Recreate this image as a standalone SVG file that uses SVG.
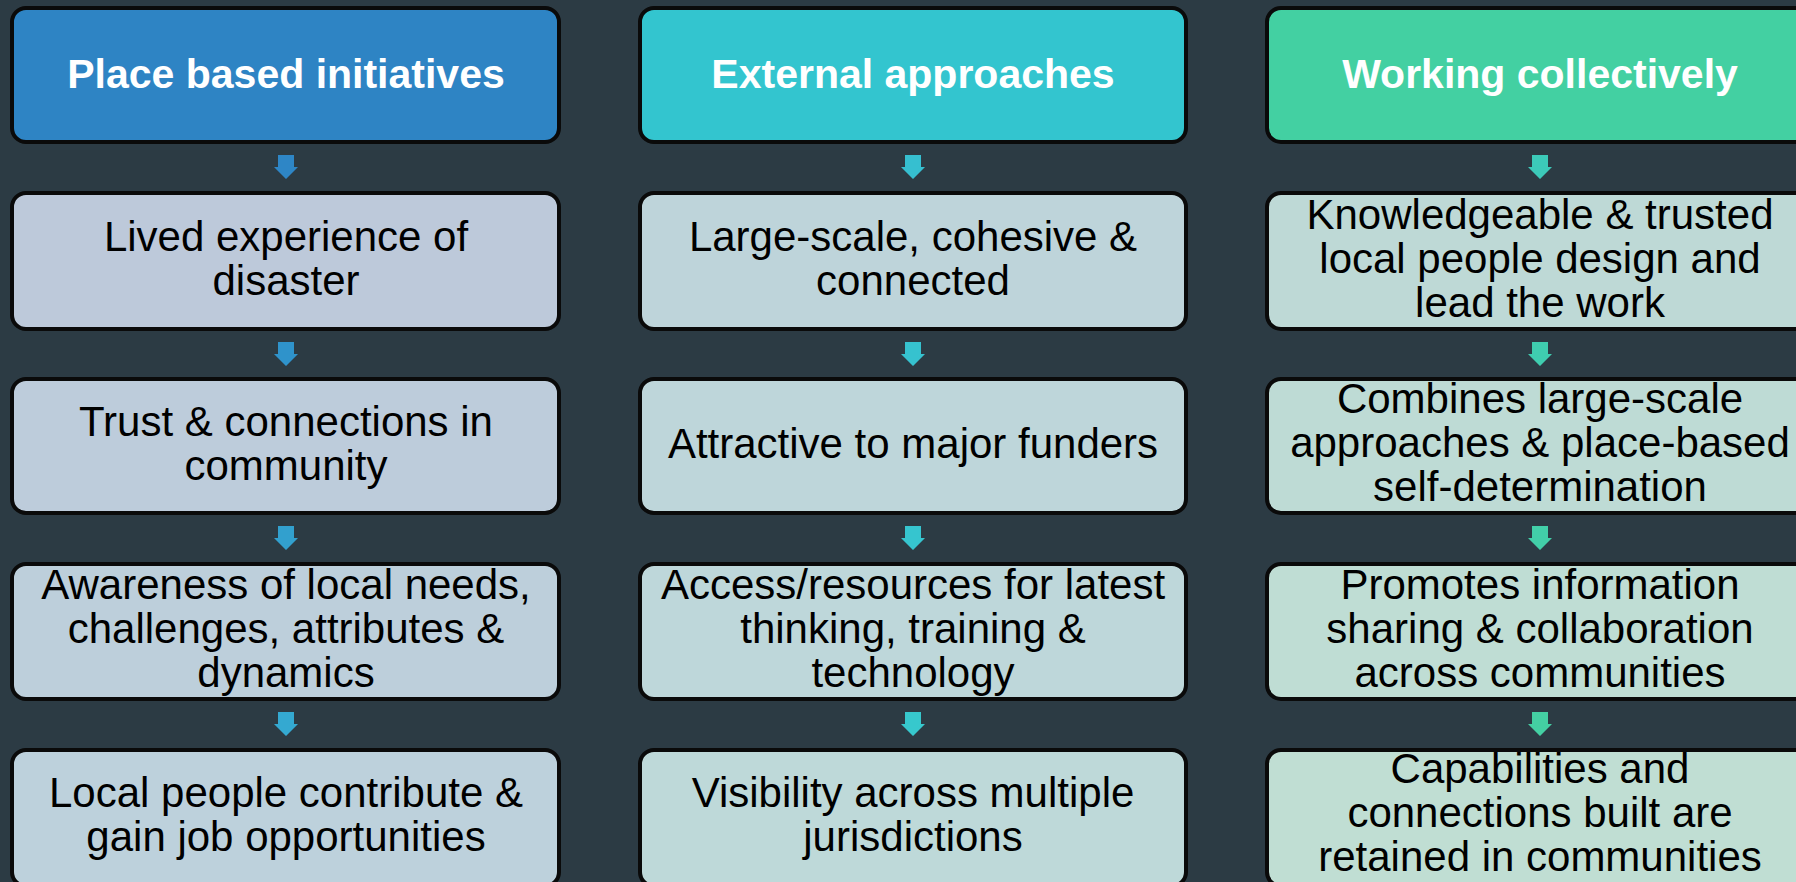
<svg xmlns="http://www.w3.org/2000/svg" xmlns:xlink="http://www.w3.org/1999/xlink" width="1796" height="882" viewBox="0 0 1796 882">
  <style>
    .box { stroke: #0a0a0a; stroke-width: 4; }
    .hdr { font-family: "Liberation Sans", Arial, sans-serif; font-weight: bold; font-size: 41px; fill: #ffffff; text-anchor: middle; }
    .txt { font-family: "Liberation Sans", Arial, sans-serif; font-size: 42px; fill: #000000; text-anchor: middle; }
  </style>
  <defs>
    <path id="arr" d="M -8 0 H 8 V 12 H 12 L 0 24 L -12 12 H -8 Z"/>
  </defs>
  <rect x="0" y="0" width="1796" height="882" fill="#2c3b44"/>
  <line x1="1800" y1="846" x2="1748" y2="886" stroke="#9fc7c0" stroke-width="1.5" opacity="0.35"/>

  <g id="connectors">
    <use xlink:href="#arr" x="286" y="155" fill="#2e86c6"/>
    <use xlink:href="#arr" x="286" y="342" fill="#2f93cb"/>
    <use xlink:href="#arr" x="286" y="526" fill="#32a0ce"/>
    <use xlink:href="#arr" x="286" y="712" fill="#34a9d1"/>
    <use xlink:href="#arr" x="913" y="155" fill="#36bfd0"/>
    <use xlink:href="#arr" x="913" y="342" fill="#36c2cf"/>
    <use xlink:href="#arr" x="913" y="526" fill="#36c5cf"/>
    <use xlink:href="#arr" x="913" y="712" fill="#37c8cd"/>
    <use xlink:href="#arr" x="1540" y="155" fill="#3ccab9"/>
    <use xlink:href="#arr" x="1540" y="342" fill="#3fcdaf"/>
    <use xlink:href="#arr" x="1540" y="526" fill="#42cfa8"/>
    <use xlink:href="#arr" x="1540" y="712" fill="#44d0a3"/>
  </g>

  <g id="h1">
    <rect class="box" x="12" y="8" width="547" height="134" rx="14" fill="#2e84c4"/>
    <text class="hdr" x="286" y="88">Place based initiatives</text>
  </g>
  <g id="h2">
    <rect class="box" x="640" y="8" width="546" height="134" rx="14" fill="#33c5cf"/>
    <text class="hdr" x="913" y="88">External approaches</text>
  </g>
  <g id="h3">
    <rect class="box" x="1267" y="8" width="547" height="134" rx="14" fill="#43d0a2"/>
    <text class="hdr" x="1540" y="88">Working collectively</text>
  </g>

  <g id="c1r1">
    <rect class="box" x="12" y="193" width="547" height="136" rx="14" fill="#bdc9da"/>
    <text class="txt" x="286" y="251">Lived experience of</text>
    <text class="txt" x="286" y="295">disaster</text>
  </g>
  <g id="c1r2">
    <rect class="box" x="12" y="379" width="547" height="134" rx="14" fill="#bdccdb"/>
    <text class="txt" x="286" y="436">Trust &amp; connections in</text>
    <text class="txt" x="286" y="480">community</text>
  </g>
  <g id="c1r3">
    <rect class="box" x="12" y="564" width="547" height="135" rx="14" fill="#bdcfdb"/>
    <text class="txt" x="286" y="599">Awareness of local needs,</text>
    <text class="txt" x="286" y="643">challenges, attributes &amp;</text>
    <text class="txt" x="286" y="687">dynamics</text>
  </g>
  <g id="c1r4">
    <rect class="box" x="12" y="750" width="547" height="136" rx="14" fill="#bdd1dc"/>
    <text class="txt" x="286" y="807">Local people contribute &amp;</text>
    <text class="txt" x="286" y="851">gain job opportunities</text>
  </g>

  <g id="c2r1">
    <rect class="box" x="640" y="193" width="546" height="136" rx="14" fill="#bed4da"/>
    <text class="txt" x="913" y="251">Large-scale, cohesive &amp;</text>
    <text class="txt" x="913" y="295">connected</text>
  </g>
  <g id="c2r2">
    <rect class="box" x="640" y="379" width="546" height="134" rx="14" fill="#bed6da"/>
    <text class="txt" x="913" y="458">Attractive to major funders</text>
  </g>
  <g id="c2r3">
    <rect class="box" x="640" y="564" width="546" height="135" rx="14" fill="#bed7da"/>
    <text class="txt" x="913" y="599">Access/resources for latest</text>
    <text class="txt" x="913" y="643">thinking, training &amp;</text>
    <text class="txt" x="913" y="687">technology</text>
  </g>
  <g id="c2r4">
    <rect class="box" x="640" y="750" width="546" height="136" rx="14" fill="#bed9d9"/>
    <text class="txt" x="913" y="807">Visibility across multiple</text>
    <text class="txt" x="913" y="851">jurisdictions</text>
  </g>

  <g id="c3r1">
    <rect class="box" x="1267" y="193" width="547" height="136" rx="14" fill="#bed9d6"/>
    <text class="txt" x="1540" y="229">Knowledgeable &amp; trusted</text>
    <text class="txt" x="1540" y="273">local people design and</text>
    <text class="txt" x="1540" y="317">lead the work</text>
  </g>
  <g id="c3r2">
    <rect class="box" x="1267" y="379" width="547" height="134" rx="14" fill="#bedbd5"/>
    <text class="txt" x="1540" y="413">Combines large-scale</text>
    <text class="txt" x="1540" y="457">approaches &amp; place-based</text>
    <text class="txt" x="1540" y="501">self-determination</text>
  </g>
  <g id="c3r3">
    <rect class="box" x="1267" y="564" width="547" height="135" rx="14" fill="#bfddd4"/>
    <text class="txt" x="1540" y="599">Promotes information</text>
    <text class="txt" x="1540" y="643">sharing &amp; collaboration</text>
    <text class="txt" x="1540" y="687">across communities</text>
  </g>
  <g id="c3r4">
    <rect class="box" x="1267" y="750" width="547" height="136" rx="14" fill="#c0ded3"/>
    <text class="txt" x="1540" y="783">Capabilities and</text>
    <text class="txt" x="1540" y="827">connections built are</text>
    <text class="txt" x="1540" y="871">retained in communities</text>
  </g>
</svg>
